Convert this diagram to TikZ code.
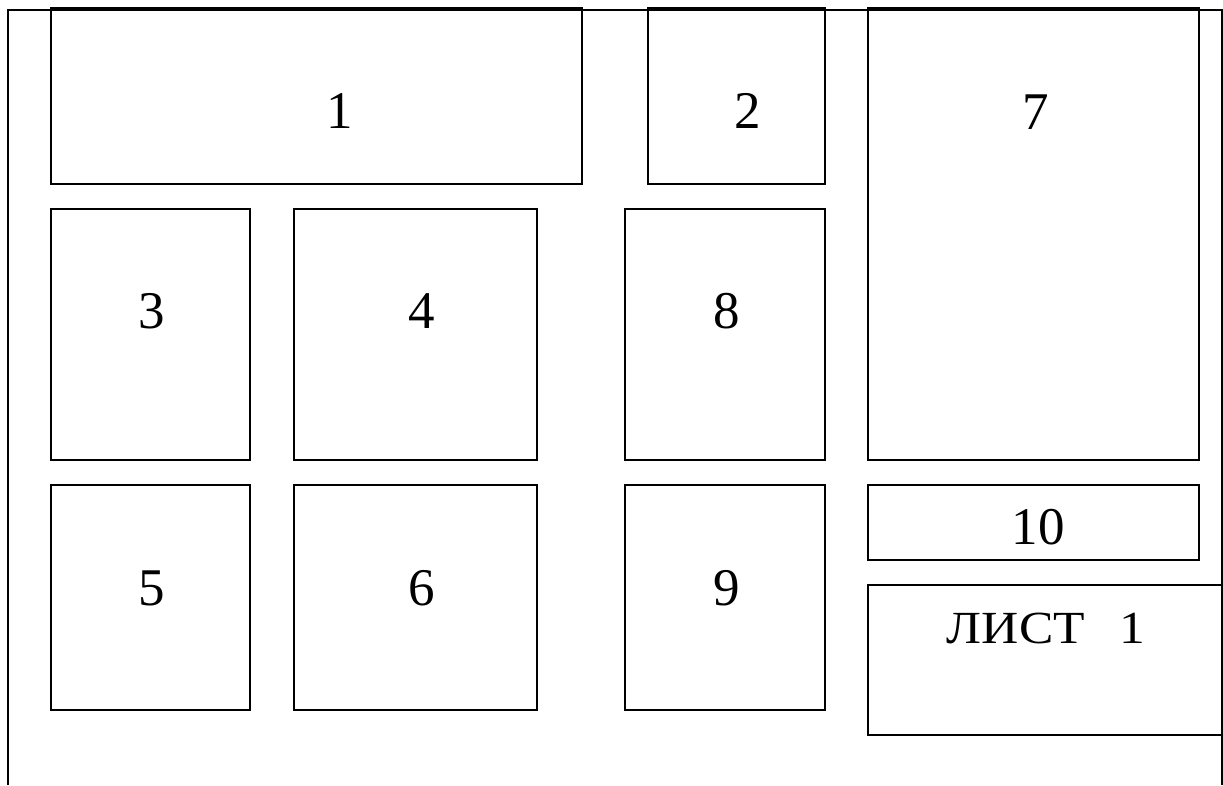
\documentclass[tikz,border=0pt]{standalone}
\usepackage{fontspec}
\setmainfont{Liberation Serif}
\newfontfamily\listfont[FakeStretch=1.12]{Liberation Serif}
\begin{document}
\begin{tikzpicture}[x=1pt,y=-1pt,
  panel/.style={draw=black,line width=1.5pt,rectangle,inner sep=0pt},
  frame/.style={draw=black,line width=1.8pt},
  lab/.style={font=\fontsize{53}{60}\selectfont,inner sep=0pt}]
\useasboundingbox (0,0) rectangle (1223,785);
% outer frame
\coordinate (tl) at (8,10);
\coordinate (tr) at (1222,10);
\coordinate (bl) at (8,785);
\coordinate (br) at (1222,785);
\draw[frame] (bl) -- (tl) -- (tr) -- (br);
% panels
\newcommand{\panel}[5]{%
  \node[panel,minimum width={#3-#1},minimum height={#4-#2}] (#5) at ({(#1+#3)/2},{(#2+#4)/2}) {};}
\panel{51}{8}{582}{184}{p1}
\panel{648}{8}{825}{184}{p2}
\panel{868}{8}{1199}{460}{p7}
\panel{51}{209}{250}{460}{p3}
\panel{294}{209}{537}{460}{p4}
\panel{625}{209}{825}{460}{p8}
\panel{51}{485}{250}{710}{p5}
\panel{294}{485}{537}{710}{p6}
\panel{625}{485}{825}{710}{p9}
\panel{868}{485}{1199}{560}{p10}
\panel{868}{585}{1222}{735}{pl}
\node[lab] (t1) at (340,111) {1};
\node[lab] (t2) at (748,111) {2};
\node[lab] (t7) at (1036,112) {7};
\node[lab] (t3) at (152,311) {3};
\node[lab] (t4) at (422,311) {4};
\node[lab] (t8) at (727,311) {8};
\node[lab] (t5) at (152,588) {5};
\node[lab] (t6) at (422,588) {6};
\node[lab] (t9) at (727,588) {9};
\node[lab] (t10) at (1038,527) {10};
\node[inner sep=0pt,font=\listfont\fontsize{46}{52}\selectfont] (tl1) at (1046,628) {ЛИСТ\hspace{0.75em}1};
\end{tikzpicture}
\end{document}
